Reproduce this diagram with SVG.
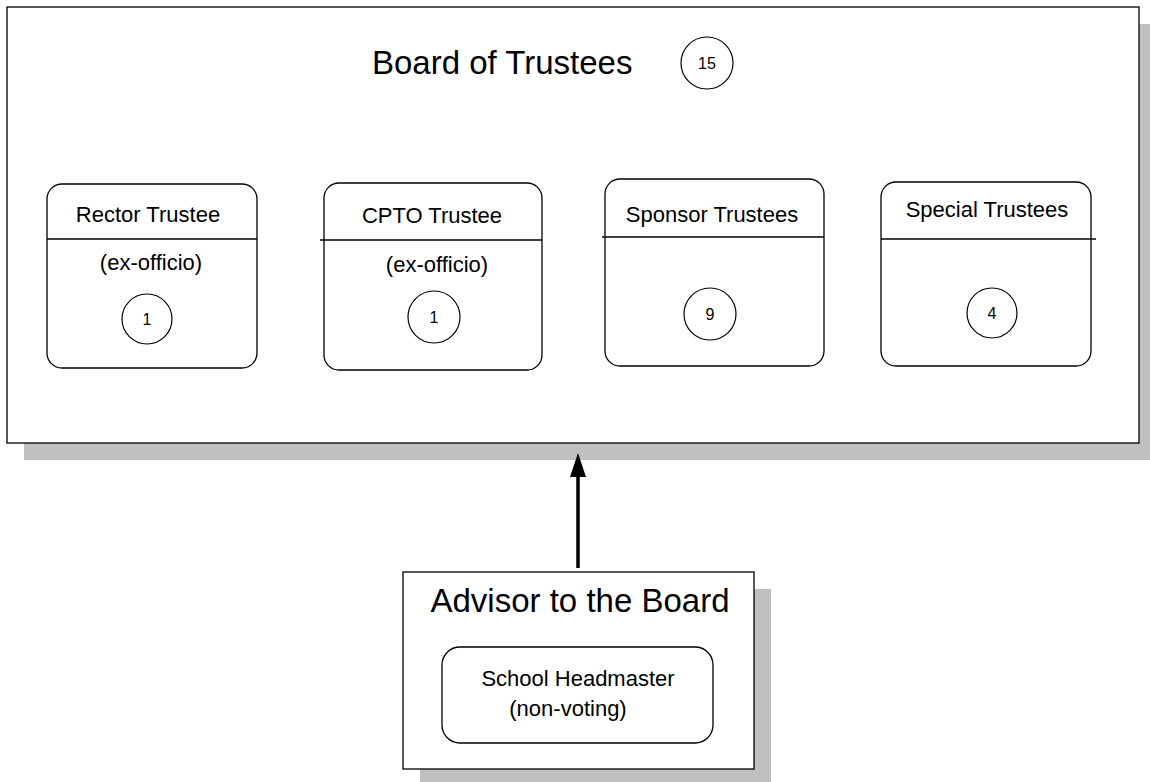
<svg xmlns="http://www.w3.org/2000/svg" width="1150" height="782" viewBox="0 0 1150 782">
<style>
text{font-family:"Liberation Sans",Arial,sans-serif;fill:#000}
.big{font-size:33px}
.lbl{font-size:22px;text-anchor:middle}
.num{font-size:16px;text-anchor:middle}
.box{fill:#fff;stroke:#000;stroke-width:1.3}
.shadow{fill:#c0c0c0;stroke:none}
.line{stroke:#000;stroke-width:1.3}
.circ{fill:#fff;stroke:#000;stroke-width:1.2}
</style>
<rect width="1150" height="782" fill="#fff"/>
<g id="board">
<rect class="shadow" x="24" y="24" width="1132" height="436"/>
<rect class="box" x="7" y="7" width="1132" height="436"/>
<text class="big" x="372" y="74">Board of Trustees</text>
<circle class="circ" cx="707" cy="63" r="26"/>
<text class="num" x="707" y="69">15</text>
</g>
<g id="rector">
<rect class="box" x="47" y="184" width="210" height="184" rx="15"/>
<line class="line" x1="47" y1="239" x2="257" y2="239"/>
<text class="lbl" x="148" y="222">Rector Trustee</text>
<text class="lbl" x="151" y="270">(ex-officio)</text>
<circle class="circ" cx="147" cy="319" r="25"/>
<text class="num" x="147" y="325">1</text>
</g>
<g id="cpto">
<rect class="box" x="324" y="183" width="218" height="187" rx="15"/>
<line class="line" x1="320" y1="240" x2="542" y2="240"/>
<text class="lbl" x="432" y="223">CPTO Trustee</text>
<text class="lbl" x="437" y="272">(ex-officio)</text>
<circle class="circ" cx="434" cy="317" r="26"/>
<text class="num" x="434" y="323">1</text>
</g>
<g id="sponsor">
<rect class="box" x="605" y="179" width="219" height="187" rx="15"/>
<line class="line" x1="602" y1="237" x2="824" y2="237"/>
<text class="lbl" x="712" y="222">Sponsor Trustees</text>
<circle class="circ" cx="710" cy="314" r="26"/>
<text class="num" x="710" y="320">9</text>
</g>
<g id="special">
<rect class="box" x="881" y="182" width="210" height="184" rx="15"/>
<line class="line" x1="881" y1="239" x2="1096" y2="239"/>
<text class="lbl" x="987" y="217">Special Trustees</text>
<circle class="circ" cx="992" cy="313" r="25"/>
<text class="num" x="992" y="319">4</text>
</g>
<g id="advisor">
<rect class="shadow" x="420" y="589" width="351" height="197"/>
<rect class="box" x="403" y="572" width="351" height="197"/>
<text class="big" x="580" y="612" text-anchor="middle">Advisor to the Board</text>
<rect class="box" x="442" y="647" width="271" height="96" rx="18"/>
<text class="lbl" x="578" y="686">School Headmaster</text>
<text class="lbl" x="568" y="716">(non-voting)</text>
</g>
<g id="connectors">
<line x1="578" y1="568" x2="578" y2="475" stroke="#000" stroke-width="3.5"/>
<polygon points="578,453 570,477 586,477" fill="#000"/>
</g>
</svg>
